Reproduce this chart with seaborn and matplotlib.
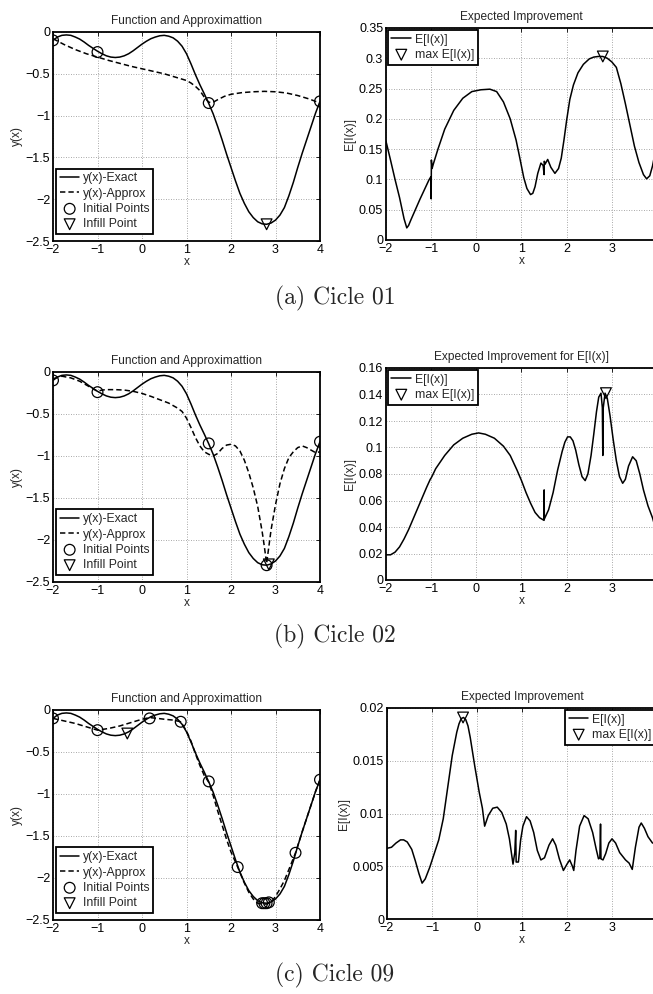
import numpy as np
import pandas as pd
import matplotlib
matplotlib.use("Agg")
import matplotlib.pyplot as plt
import seaborn as sns

# ---------------- data ----------------
x_exact = [-2.0, -1.9, -1.8, -1.7, -1.6, -1.5, -1.4, -1.3, -1.2, -1.1,
           -1.0, -0.9, -0.8, -0.7, -0.6, -0.5, -0.4, -0.3, -0.2, -0.1,
           0.0, 0.1, 0.2, 0.3, 0.4, 0.5, 0.6, 0.7, 0.8, 0.9,
           1.0, 1.1, 1.2, 1.3, 1.4, 1.5, 1.6, 1.7, 1.8, 1.9,
           2.0, 2.1, 2.2, 2.3, 2.4, 2.5, 2.6, 2.7, 2.8, 2.9,
           3.0, 3.1, 3.2, 3.3, 3.4, 3.5, 3.6, 3.7, 3.8, 3.9, 4.0]
y_exact = [-0.10, -0.06, -0.04, -0.035, -0.04, -0.06, -0.085, -0.12, -0.16, -0.195,
           -0.23, -0.26, -0.285, -0.30, -0.305, -0.30, -0.285, -0.26, -0.225, -0.185,
           -0.145, -0.11, -0.08, -0.06, -0.045, -0.04, -0.05, -0.07, -0.11, -0.17,
           -0.26, -0.38, -0.51, -0.63, -0.74, -0.855, -0.98, -1.13, -1.29, -1.46,
           -1.62, -1.78, -1.93, -2.05, -2.15, -2.22, -2.27, -2.295, -2.30, -2.285,
           -2.25, -2.19, -2.10, -1.96, -1.80, -1.62, -1.45, -1.29, -1.13, -0.97, -0.83]

# cycle 01 approximation
x_app1 = [-2.0, -1.75, -1.5, -1.25, -1.0, -0.75, -0.5, -0.25, 0.0, 0.25, 0.5, 0.75,
          1.0, 1.1, 1.2, 1.3, 1.4, 1.5, 1.6, 1.7, 1.85, 2.0, 2.25, 2.5, 2.75, 3.0,
          3.25, 3.5, 3.75, 4.0]
y_app1 = [-0.08, -0.15, -0.21, -0.26, -0.30, -0.34, -0.375, -0.41, -0.44, -0.47, -0.50, -0.54,
          -0.58, -0.61, -0.65, -0.70, -0.78, -0.84, -0.84, -0.81, -0.77, -0.745, -0.725, -0.715, -0.71, -0.715,
          -0.73, -0.76, -0.80, -0.85]
x_init1 = [-2.0, -1.0, 1.5, 4.0]
y_init1 = [-0.10, -0.24, -0.85, -0.83]
x_inf1 = [2.8]
y_inf1 = [-2.30]

# cycle 02 approximation
x_app2 = [-2.0, -1.8, -1.6, -1.4, -1.2, -1.0, -0.9, -0.8, -0.6, -0.4, -0.2, 0.0, 0.2, 0.4,
          0.6, 0.8, 0.9, 1.0, 1.1, 1.2, 1.3, 1.4, 1.5, 1.6, 1.7, 1.8, 1.9, 2.0, 2.1,
          2.2, 2.3, 2.4, 2.5, 2.6, 2.7, 2.75, 2.8, 2.85, 2.9, 3.0, 3.1, 3.2, 3.3, 3.4,
          3.5, 3.6, 3.7, 3.8, 3.9, 4.0]
y_app2 = [-0.08, -0.05, -0.07, -0.11, -0.17, -0.23, -0.215, -0.21, -0.21, -0.215, -0.23, -0.255, -0.29, -0.33,
          -0.37, -0.43, -0.47, -0.55, -0.66, -0.78, -0.88, -0.95, -0.98, -1.0, -0.97, -0.91, -0.87, -0.86, -0.88,
          -0.94, -1.05, -1.2, -1.38, -1.6, -1.9, -2.08, -2.28, -2.08, -1.88, -1.58, -1.33, -1.15, -1.02, -0.95,
          -0.9, -0.88, -0.9, -0.93, -0.96, -0.95]
x_init2 = [-2.0, -1.0, 1.5, 2.8, 4.0]
y_init2 = [-0.10, -0.24, -0.85, -2.30, -0.83]
x_inf2 = [2.85]
y_inf2 = [-2.29]

# cycle 09 approximation
x_app9 = [-2.0, -1.75, -1.5, -1.25, -1.0, -0.75, -0.5, -0.25, 0.0, 0.17, 0.35, 0.5, 0.7, 0.87,
          1.0, 1.1, 1.2, 1.3, 1.4, 1.5, 1.6, 1.7, 1.8, 1.9, 2.0, 2.15, 2.3, 2.4, 2.5, 2.6,
          2.7, 2.8, 2.9, 3.0, 3.1, 3.2, 3.3, 3.45, 3.6, 3.7, 3.8, 3.9, 4.0]
y_app9 = [-0.10, -0.13, -0.16, -0.20, -0.24, -0.22, -0.19, -0.15, -0.11, -0.09, -0.10, -0.11, -0.12, -0.14,
          -0.25, -0.37, -0.52, -0.66, -0.78, -0.86, -1.02, -1.2, -1.37, -1.54, -1.69, -1.87, -2.06, -2.17, -2.25, -2.3,
          -2.31, -2.31, -2.29, -2.22, -2.13, -2.03, -1.9, -1.7, -1.45, -1.29, -1.13, -0.97, -0.83]
x_init9 = [-2.0, -1.0, 0.17, 0.87, 1.5, 2.15, 2.7, 2.75, 2.8, 2.85, 3.45, 4.0]
y_init9 = [-0.10, -0.24, -0.10, -0.14, -0.85, -1.87, -2.30, -2.30, -2.30, -2.29, -1.70, -0.83]
x_inf9 = [-0.33]
y_inf9 = [-0.28]

# expected improvement, cycle 01
x_ei1 = [-2.0, -1.9, -1.8, -1.7, -1.6, -1.54, -1.5, -1.45, -1.35, -1.25, -1.15, -1.05, -1.01, -1.0,
         -0.995, -0.98, -0.95, -0.85, -0.7, -0.5, -0.3, -0.1, 0.1, 0.3, 0.45, 0.6, 0.75, 0.88,
         0.95, 1.05, 1.12, 1.2, 1.25, 1.3, 1.36, 1.43, 1.48, 1.5, 1.505, 1.52, 1.58, 1.65, 1.74,
         1.82, 1.88, 1.94, 2.0, 2.07, 2.15, 2.25, 2.37, 2.5, 2.6, 2.7, 2.8, 2.9, 3.0, 3.1,
         3.2, 3.3, 3.4, 3.5, 3.6, 3.7, 3.77, 3.84, 3.9, 4.0]
y_ei1 = [0.163, 0.132, 0.100, 0.070, 0.035, 0.020, 0.024, 0.033, 0.050, 0.067, 0.083, 0.099, 0.104, 0.068,
         0.132, 0.118, 0.126, 0.150, 0.183, 0.214, 0.234, 0.245, 0.248, 0.249, 0.245, 0.228, 0.200, 0.165,
         0.140, 0.103, 0.085, 0.075, 0.077, 0.088, 0.110, 0.127, 0.123, 0.108, 0.130, 0.125, 0.133, 0.120, 0.110,
         0.118, 0.135, 0.165, 0.198, 0.232, 0.256, 0.276, 0.290, 0.299, 0.302, 0.303, 0.303, 0.300, 0.294, 0.285,
         0.258, 0.225, 0.190, 0.155, 0.128, 0.108, 0.101, 0.106, 0.122, 0.160]
x_max1 = [2.8]
y_max1 = [0.303]

# expected improvement, cycle 02
x_ei2 = [-2.0, -1.9, -1.8, -1.7, -1.6, -1.5, -1.4, -1.3, -1.2, -1.1, -1.02, -1.0, -0.97, -0.9,
         -0.7, -0.5, -0.3, -0.1, 0.05, 0.2, 0.4, 0.6, 0.75, 0.9, 1.0, 1.1, 1.2, 1.3, 1.4, 1.5,
         1.502, 1.505, 1.6, 1.7, 1.8, 1.9, 1.96, 2.02, 2.08, 2.14, 2.2, 2.27, 2.34, 2.41, 2.47,
         2.54, 2.6, 2.66, 2.71, 2.76, 2.79, 2.8, 2.81, 2.85, 2.9, 2.96, 3.03, 3.1, 3.17, 3.24,
         3.3, 3.37, 3.46, 3.54, 3.62, 3.7, 3.8, 3.9, 4.0]
y_ei2 = [0.019, 0.019, 0.021, 0.025, 0.031, 0.038, 0.046, 0.054, 0.062, 0.070, 0.076, 0.077, 0.079, 0.084,
         0.094, 0.102, 0.107, 0.110, 0.111, 0.110, 0.107, 0.101, 0.094, 0.083, 0.075, 0.066, 0.058, 0.051, 0.047, 0.045,
         0.068, 0.046, 0.053, 0.066, 0.083, 0.097, 0.104, 0.108, 0.108, 0.105, 0.098, 0.087, 0.078, 0.075, 0.080,
         0.094, 0.110, 0.127, 0.138, 0.141, 0.130, 0.094, 0.130, 0.141, 0.137, 0.124, 0.106, 0.090, 0.078, 0.073,
         0.076, 0.086, 0.093, 0.090, 0.080, 0.068, 0.056, 0.047, 0.035]
x_max2 = [2.87]
y_max2 = [0.141]

# expected improvement, cycle 09
x_ei9 = [-2.0, -1.9, -1.8, -1.7, -1.63, -1.55, -1.45, -1.37, -1.29, -1.22, -1.15, -1.05, -0.95, -0.85,
         -0.75, -0.65, -0.55, -0.45, -0.4, -0.35, -0.3, -0.25, -0.2, -0.15, -0.05, 0.05, 0.12, 0.17, 0.25, 0.35,
         0.45, 0.55, 0.65, 0.72, 0.78, 0.8, 0.84, 0.86, 0.87, 0.92, 0.97, 1.02, 1.1, 1.18, 1.26,
         1.34, 1.42, 1.5, 1.6, 1.68, 1.75, 1.83, 1.92, 2.0, 2.06, 2.12, 2.15, 2.2, 2.28, 2.38,
         2.47, 2.57, 2.65, 2.7, 2.73, 2.745, 2.755, 2.8, 2.86, 2.93, 3.0, 3.08, 3.17, 3.3, 3.38,
         3.45, 3.52, 3.6, 3.65, 3.72, 3.8, 3.9, 4.0]
y_ei9 = [0.0067, 0.0068, 0.0072, 0.0075, 0.0075, 0.0073, 0.0066, 0.0055, 0.0043, 0.0034, 0.0038, 0.0049, 0.0062, 0.0075,
         0.0095, 0.0125, 0.0155, 0.0177, 0.0185, 0.0190, 0.0191, 0.0189, 0.0183, 0.0172, 0.0145, 0.0120, 0.0105, 0.0088, 0.0098, 0.0105,
         0.0106, 0.0101, 0.0090, 0.0076, 0.0058, 0.0052, 0.0063, 0.0084, 0.0054, 0.0054, 0.0075, 0.0088, 0.0097, 0.0093, 0.0082,
         0.0065, 0.0056, 0.0058, 0.0070, 0.0076, 0.0070, 0.0057, 0.0046, 0.0052, 0.0056, 0.0050, 0.0046, 0.0065, 0.0088, 0.0098,
         0.0095, 0.0082, 0.0066, 0.0057, 0.0058, 0.0090, 0.0057, 0.0056, 0.0062, 0.0072, 0.0076, 0.0072, 0.0063, 0.0056, 0.0053,
         0.0047, 0.0068, 0.0087, 0.0091, 0.0086, 0.0078, 0.0072, 0.0072]
x_max9 = [-0.31]
y_max9 = [0.0191]

x_ticks = [-2, -1, 0, 1, 2, 3, 4]
x_ticklabels = ["\u22122", "\u22121", "0", "1", "2", "3", "4"]
yf_ticks = [0, -0.5, -1, -1.5, -2, -2.5]
yf_ticklabels = ["0", "\u22120.5", "\u22121", "\u22121.5", "\u22122", "\u22122.5"]
ei1_ticks = [0, 0.05, 0.1, 0.15, 0.2, 0.25, 0.3, 0.35]
ei1_ticklabels = ["0", "0.05", "0.1", "0.15", "0.2", "0.25", "0.3", "0.35"]
ei2_ticks = [0, 0.02, 0.04, 0.06, 0.08, 0.1, 0.12, 0.14, 0.16]
ei2_ticklabels = ["0", "0.02", "0.04", "0.06", "0.08", "0.1", "0.12", "0.14", "0.16"]
ei9_ticks = [0, 0.005, 0.01, 0.015, 0.02]
ei9_ticklabels = ["0", "0.005", "0.01", "0.015", "0.02"]

captions = ["(a) Cicle 01", "(b) Cicle 02", "(c) Cicle 09"]

# ---------------- figure ----------------
sns.set_theme(style="white")
plt.rcParams["font.family"] = ["Liberation Sans", "DejaVu Sans"]
FS_TICK = 9.0
FS_TITLE = 8.6
FS_LEG = 8.8
LW = 1.1

W, H = 653, 994
fig = plt.figure(figsize=(W / 100, H / 100), dpi=100)


def add_ax(l, t, r, b):
    return fig.add_axes([l / W, 1 - b / H, (r - l) / W, (b - t) / H])


def style(ax, yticks, ylabels, ylim, title, ylabel):
    ax.set_xlim(-2, 4)
    ax.set_ylim(*ylim)
    ax.set_xticks(x_ticks)
    ax.set_xticklabels(x_ticklabels)
    ax.set_yticks(yticks)
    ax.set_yticklabels(ylabels)
    ax.grid(True, linestyle=(0, (1, 2)), color="#8c8c8c", linewidth=0.6)
    ax.set_axisbelow(True)
    ax.tick_params(direction="in", length=3, width=0.6, top=True, right=True,
                   labelsize=FS_TICK, pad=2, colors="black")
    for s in ax.spines.values():
        s.set_linewidth(1.3)
        s.set_color("black")
    ax.set_title(title, fontsize=FS_TITLE, pad=6)
    ax.set_xlabel("x", fontsize=FS_TITLE, labelpad=0)
    ax.set_ylabel(ylabel, fontsize=FS_TITLE, labelpad=2)


def legend(ax, **kw):
    leg = ax.legend(fontsize=FS_LEG, frameon=True, fancybox=False, framealpha=1,
                    edgecolor="black", borderpad=0.3, labelspacing=0.28, handlelength=1.6,
                    handletextpad=0.3, **kw)
    leg.get_frame().set_linewidth(1.3)
    return leg


def func_panel(ax, xa, ya, xi, yi, xf, yf):
    sns.lineplot(x=x_exact, y=y_exact, ax=ax, color="black", linewidth=LW,
                 sort=False, estimator=None, label="y(x)-Exact")
    sns.lineplot(x=xa, y=ya, ax=ax, color="black", linewidth=LW, linestyle=(0, (3.5, 2)),
                 sort=False, estimator=None, label="y(x)-Approx")
    sns.scatterplot(x=xi, y=yi, ax=ax, marker="o", s=60, color="black", facecolors="none",
                    edgecolor="black", linewidth=0.9, label="Initial Points", zorder=5)
    sns.scatterplot(x=xf, y=yf, ax=ax, marker="v", s=60, color="black", facecolors="none",
                    edgecolor="black", linewidth=0.9, label="Infill Point", zorder=6)
    style(ax, yf_ticks, yf_ticklabels, (-2.5, 0), "Function and Approximattion", "y(x)")
    legend(ax, loc="lower left", bbox_to_anchor=(0.012, 0.033), borderaxespad=0)


def ei_panel(ax, xe, ye, xm, ym, ticks, labels, ylim, title, loc):
    sns.lineplot(x=xe, y=ye, ax=ax, color="black", linewidth=LW,
                 sort=False, estimator=None, label="E[I(x)]")
    sns.scatterplot(x=xm, y=ym, ax=ax, marker="v", s=60, color="black", facecolors="none",
                    edgecolor="black", linewidth=0.9, label="max E[I(x)]", zorder=6)
    style(ax, ticks, labels, ylim, title, "E[I(x)]")
    legend(ax, loc=loc, borderaxespad=0.15)


# row 1
ax = add_ax(53, 32, 320, 241)
func_panel(ax, x_app1, y_app1, x_init1, y_init1, x_inf1, y_inf1)
ax = add_ax(386, 28, 657, 240)
ei_panel(ax, x_ei1, y_ei1, x_max1, y_max1, ei1_ticks, ei1_ticklabels, (0, 0.35),
         "Expected Improvement", "upper left")

# row 2
ax = add_ax(53, 372, 320, 582)
func_panel(ax, x_app2, y_app2, x_init2, y_init2, x_inf2, y_inf2)
ax = add_ax(386, 368, 657, 580)
ei_panel(ax, x_ei2, y_ei2, x_max2, y_max2, ei2_ticks, ei2_ticklabels, (0, 0.16),
         "Expected Improvement for E[I(x)]", "upper left")

# row 3
ax = add_ax(53, 710, 320, 920)
func_panel(ax, x_app9, y_app9, x_init9, y_init9, x_inf9, y_inf9)
ax = add_ax(387, 708, 657, 919)
ei_panel(ax, x_ei9, y_ei9, x_max9, y_max9, ei9_ticks, ei9_ticklabels, (0, 0.02),
         "Expected Improvement", "upper right")

# captions
for cap, yc in zip(captions, [298, 636, 975]):
    fig.text(335 / W, 1 - yc / H, cap, family="cmr10", fontsize=17,
             ha="center", va="center")

fig.savefig("out.png", dpi=100)
